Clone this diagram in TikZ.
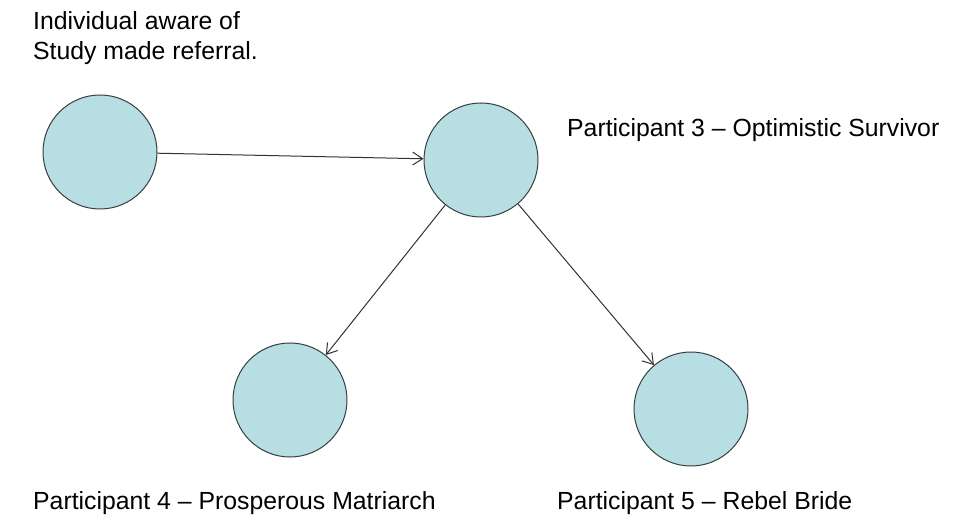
\documentclass[tikz,border=0pt]{standalone}
\usepackage{fontspec}
\setmainfont{Liberation Sans}
\usetikzlibrary{arrows.meta}
\definecolor{bubble}{HTML}{B7DEE3}
\definecolor{rim}{HTML}{36403F}
\begin{document}
\begin{tikzpicture}[x=1pt,y=-1pt,
  person/.style={circle,draw=rim,line width=1pt,fill=bubble,minimum size=114pt,inner sep=0pt},
  link/.style={draw=black!80,line width=1pt,-{Straight Barb[length=10pt,width=13pt,line width=1pt]}},
  caption/.style={anchor=base west,inner sep=0pt,font=\fontsize{24.8}{30}\selectfont,text=black}]
\useasboundingbox (0,0) rectangle (953,521);
\fill[white] (0,0) rectangle (953,521);

\node[person] (ref) at (100,152) {};
\node[person] (p3)  at (481,160) {};
\node[person] (p4)  at (290,400) {};
\node[person] (p5)  at (691,409) {};

\draw[link] (ref) -- (p3);
\draw[link] (p3) -- (p4);
\draw[link] (p3) -- (p5);

\node[caption] (t0a) at (33,30) {Individual aware of};
\node[caption] (t0b) at (33,60) {Study made referral.};
\node[caption] (t3) at (567,137) {Participant 3 – Optimistic Survivor};
\node[caption] (t4) at (33,509) {Participant 4 – Prosperous Matriarch};
\node[caption] (t5) at (557,509) {Participant 5 – Rebel Bride};
\end{tikzpicture}
\end{document}
